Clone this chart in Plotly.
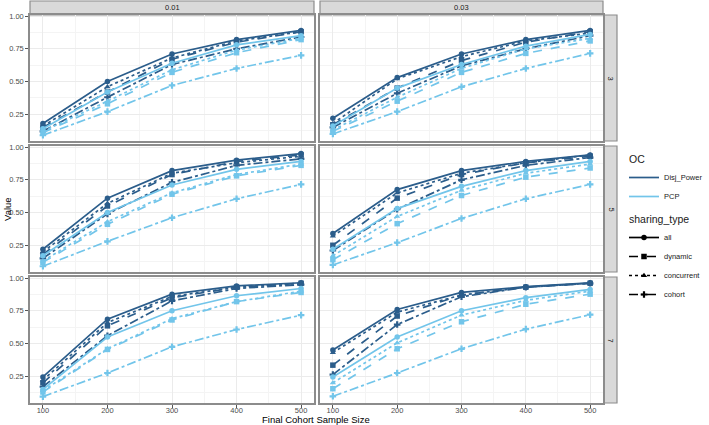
import plotly.graph_objects as go

sample_size = [100, 200, 300, 400, 500]
rates = ["0.01", "0.03"]
cohort_sizes = ["3", "5", "7"]
oc_names = ["Disj_Power", "PCP"]
sharing_types = ["all", "dynamic", "concurrent", "cohort"]

# ---- data: cohort size 3 ----
s3_r01_disj_all = [0.18, 0.50, 0.71, 0.82, 0.89]
s3_r01_disj_dynamic = [0.15, 0.42, 0.67, 0.80, 0.88]
s3_r01_disj_concurrent = [0.16, 0.46, 0.68, 0.81, 0.88]
s3_r01_disj_cohort = [0.12, 0.38, 0.63, 0.75, 0.84]
s3_r01_pcp_all = [0.14, 0.42, 0.64, 0.78, 0.85]
s3_r01_pcp_dynamic = [0.11, 0.33, 0.57, 0.72, 0.82]
s3_r01_pcp_concurrent = [0.12, 0.35, 0.59, 0.74, 0.83]
s3_r01_pcp_cohort = [0.09, 0.27, 0.47, 0.60, 0.70]

s3_r03_disj_all = [0.22, 0.53, 0.71, 0.82, 0.89]
s3_r03_disj_dynamic = [0.17, 0.45, 0.66, 0.80, 0.88]
s3_r03_disj_concurrent = [0.18, 0.52, 0.69, 0.81, 0.87]
s3_r03_disj_cohort = [0.15, 0.41, 0.62, 0.75, 0.85]
s3_r03_pcp_all = [0.16, 0.45, 0.63, 0.77, 0.86]
s3_r03_pcp_dynamic = [0.12, 0.35, 0.57, 0.715, 0.81]
s3_r03_pcp_concurrent = [0.13, 0.38, 0.60, 0.75, 0.83]
s3_r03_pcp_cohort = [0.10, 0.27, 0.46, 0.60, 0.715]

# ---- data: cohort size 5 ----
s5_r01_disj_all = [0.22, 0.61, 0.82, 0.90, 0.95]
s5_r01_disj_dynamic = [0.18, 0.55, 0.79, 0.89, 0.94]
s5_r01_disj_concurrent = [0.20, 0.57, 0.80, 0.88, 0.93]
s5_r01_disj_cohort = [0.15, 0.49, 0.73, 0.86, 0.91]
s5_r01_pcp_all = [0.17, 0.50, 0.71, 0.83, 0.89]
s5_r01_pcp_dynamic = [0.12, 0.41, 0.64, 0.78, 0.86]
s5_r01_pcp_concurrent = [0.13, 0.43, 0.65, 0.79, 0.87]
s5_r01_pcp_cohort = [0.09, 0.28, 0.46, 0.605, 0.715]

s5_r03_disj_all = [0.34, 0.675, 0.82, 0.89, 0.94]
s5_r03_disj_dynamic = [0.25, 0.61, 0.79, 0.88, 0.93]
s5_r03_disj_concurrent = [0.32, 0.65, 0.80, 0.88, 0.94]
s5_r03_disj_cohort = [0.21, 0.525, 0.75, 0.86, 0.92]
s5_r03_pcp_all = [0.22, 0.53, 0.70, 0.82, 0.89]
s5_r03_pcp_dynamic = [0.14, 0.415, 0.63, 0.77, 0.84]
s5_r03_pcp_concurrent = [0.17, 0.47, 0.67, 0.80, 0.87]
s5_r03_pcp_cohort = [0.10, 0.27, 0.455, 0.605, 0.715]

# ---- data: cohort size 7 ----
s7_r01_disj_all = [0.245, 0.686, 0.877, 0.94, 0.964]
s7_r01_disj_dynamic = [0.20, 0.635, 0.85, 0.93, 0.96]
s7_r01_disj_concurrent = [0.22, 0.66, 0.86, 0.93, 0.96]
s7_r01_disj_cohort = [0.17, 0.56, 0.826, 0.92, 0.95]
s7_r01_pcp_all = [0.15, 0.55, 0.75, 0.865, 0.92]
s7_r01_pcp_dynamic = [0.13, 0.455, 0.68, 0.82, 0.89]
s7_r01_pcp_concurrent = [0.14, 0.46, 0.69, 0.82, 0.90]
s7_r01_pcp_cohort = [0.095, 0.275, 0.475, 0.607, 0.717]

s7_r03_disj_all = [0.45, 0.76, 0.89, 0.934, 0.964]
s7_r03_disj_dynamic = [0.335, 0.71, 0.87, 0.93, 0.96]
s7_r03_disj_concurrent = [0.43, 0.74, 0.87, 0.93, 0.96]
s7_r03_disj_cohort = [0.263, 0.645, 0.857, 0.93, 0.96]
s7_r03_pcp_all = [0.245, 0.55, 0.75, 0.85, 0.913]
s7_r03_pcp_dynamic = [0.155, 0.46, 0.666, 0.80, 0.877]
s7_r03_pcp_concurrent = [0.20, 0.505, 0.717, 0.83, 0.90]
s7_r03_pcp_cohort = [0.097, 0.275, 0.46, 0.61, 0.72]

g = globals()

W, H = 709, 425
colors = {"Disj_Power": "#2b5d8b", "PCP": "#72c5ea"}
dashes = {"all": "solid", "dynamic": "dash", "concurrent": "dot", "cohort": "dashdot"}
symbols = {"all": "circle", "dynamic": "square", "concurrent": "triangle-up", "cohort": "cross"}
oc_key = {"Disj_Power": "disj", "PCP": "pcp"}
rate_key = {"0.01": "r01", "0.03": "r03"}

col_px = [(30, 314), (320, 603)]
row_px = [(15, 141), (146, 272), (277, 403)]
strip_right = (604, 617)

FONT = "Liberation Sans, Arial, sans-serif"
GRID = "#ebebeb"
BORDER = "#8c8c8c"

fig = go.Figure()
layout = {}
shapes = []
annotations = []

for r, cs in enumerate(cohort_sizes):
    for c, rt in enumerate(rates):
        k = r * 2 + c + 1
        xa = "x" if k == 1 else f"x{k}"
        ya = "y" if k == 1 else f"y{k}"
        for oc in oc_names:
            for st in sharing_types:
                vals = g[f"s{cs}_{rate_key[rt]}_{oc_key[oc]}_{st}"]
                fig.add_trace(go.Scatter(
                    x=sample_size, y=vals, mode="lines+markers",
                    line=dict(color=colors[oc], width=1.7, dash=dashes[st]),
                    marker=dict(color=colors[oc], symbol=symbols[st], size=5.5,
                                line=dict(width=0)),
                    xaxis=xa, yaxis=ya, showlegend=False,
                    hoverinfo="x+y+name", name=f"{oc} / {st}"))
        x0, x1 = col_px[c]
        y0, y1 = row_px[r]
        layout["xaxis" if k == 1 else f"xaxis{k}"] = dict(
            domain=[x0 / W, x1 / W], anchor=ya, range=[80, 520],
            automargin=False,
            tickvals=sample_size, ticktext=[str(v) for v in sample_size],
            showticklabels=(r == 2), ticks="outside" if r == 2 else "",
            ticklen=3, tickcolor="#555555", ticklabelstandoff=-4,
            showgrid=True, gridcolor=GRID, gridwidth=1,
            minor=dict(tickvals=[150, 250, 350, 450], showgrid=True,
                       gridcolor="#f4f4f4", gridwidth=0.6, ticks=""),
            showline=True, mirror=True, linecolor=BORDER, linewidth=1.5,
            zeroline=False, tickfont=dict(size=7.5, color="#4d4d4d", family=FONT))
        layout["yaxis" if k == 1 else f"yaxis{k}"] = dict(
            domain=[1 - y1 / H, 1 - y0 / H], anchor=xa, range=[0.046, 1.008],
            automargin=False,
            tickvals=[0.25, 0.5, 0.75, 1.0],
            ticktext=["0.25", "0.50", "0.75", "1.00"],
            showticklabels=(c == 0), ticks="outside" if c == 0 else "",
            ticklen=3, tickcolor="#555555",
            showgrid=True, gridcolor=GRID, gridwidth=1,
            minor=dict(tickvals=[0.125, 0.375, 0.625, 0.875], showgrid=True,
                       gridcolor="#f4f4f4", gridwidth=0.6, ticks=""),
            showline=True, mirror=True, linecolor=BORDER, linewidth=1.5,
            zeroline=False, tickfont=dict(size=7.5, color="#4d4d4d", family=FONT))

# top strips
for c, rt in enumerate(rates):
    x0, x1 = col_px[c]
    shapes.append(dict(type="rect", xref="paper", yref="paper",
                       x0=x0 / W, x1=x1 / W, y0=1 - 15 / H, y1=1 - 1 / H,
                       fillcolor="#d9d9d9", line=dict(color=BORDER, width=1.2),
                       layer="below"))
    annotations.append(dict(xref="paper", yref="paper", x=(x0 + x1) / 2 / W,
                            y=1 - 8 / H, xanchor="center", yanchor="middle",
                            text=rt, showarrow=False,
                            font=dict(size=7.5, color="#1a1a1a", family=FONT)))
# right strips
for r, cs in enumerate(cohort_sizes):
    y0, y1 = row_px[r]
    shapes.append(dict(type="rect", xref="paper", yref="paper",
                       x0=strip_right[0] / W, x1=strip_right[1] / W,
                       y0=1 - y1 / H, y1=1 - y0 / H,
                       fillcolor="#d9d9d9", line=dict(color=BORDER, width=1.2),
                       layer="below"))
    annotations.append(dict(xref="paper", yref="paper",
                            x=(strip_right[0] + strip_right[1]) / 2 / W,
                            y=1 - (y0 + y1) / 2 / H, xanchor="center",
                            yanchor="middle", text=cs, textangle=90,
                            showarrow=False,
                            font=dict(size=7.5, color="#1a1a1a", family=FONT)))

# axis titles
annotations.append(dict(xref="paper", yref="paper", x=316 / W, y=1 - 419 / H,
                        xanchor="center", yanchor="middle",
                        text="Final Cohort Sample Size", showarrow=False,
                        font=dict(size=9.5, color="#000000", family=FONT)))
annotations.append(dict(xref="paper", yref="paper", x=8 / W, y=1 - 209 / H,
                        xanchor="center", yanchor="middle",
                        text="Value", textangle=-90, showarrow=False,
                        font=dict(size=9.5, color="#000000", family=FONT)))

# legend entries (keys only)
for oc in oc_names:
    fig.add_trace(go.Scatter(
        x=[None], y=[None], mode="lines", name=oc,
        line=dict(color=colors[oc], width=1.7),
        legendgroup="oc", legendgrouptitle=dict(text="OC", font=dict(size=10.5)),
        showlegend=True, legend="legend"))
for st in sharing_types:
    fig.add_trace(go.Scatter(
        x=[None], y=[None], mode="lines+markers", name=st,
        line=dict(color="#000000", width=1.7, dash=dashes[st]),
        marker=dict(color="#000000", symbol=symbols[st], size=5.5),
        legendgroup="st", legendgrouptitle=dict(text="sharing_type", font=dict(size=10.5)),
        showlegend=True, legend="legend2"))

fig.update_layout(
    width=W, height=H,
    margin=dict(l=0, r=0, t=0, b=0, autoexpand=False),
    paper_bgcolor="white", plot_bgcolor="white",
    font=dict(family=FONT, size=9, color="#1a1a1a"),
    shapes=shapes, annotations=annotations,
    legend=dict(x=624 / W, y=1 - 144 / H, xanchor="left", yanchor="top",
                bgcolor="rgba(0,0,0,0)", font=dict(size=7.5), itemwidth=30,
                tracegroupgap=0),
    legend2=dict(x=624 / W, y=1 - 204 / H, xanchor="left", yanchor="top",
                 bgcolor="rgba(0,0,0,0)", font=dict(size=7.5), itemwidth=30,
                 tracegroupgap=0),
    **layout,
)

fig.write_html("out.html", config={"displayModeBar": False},
               post_script="document.body.style.margin='0px';"
                           "document.body.style.overflow='hidden';")
